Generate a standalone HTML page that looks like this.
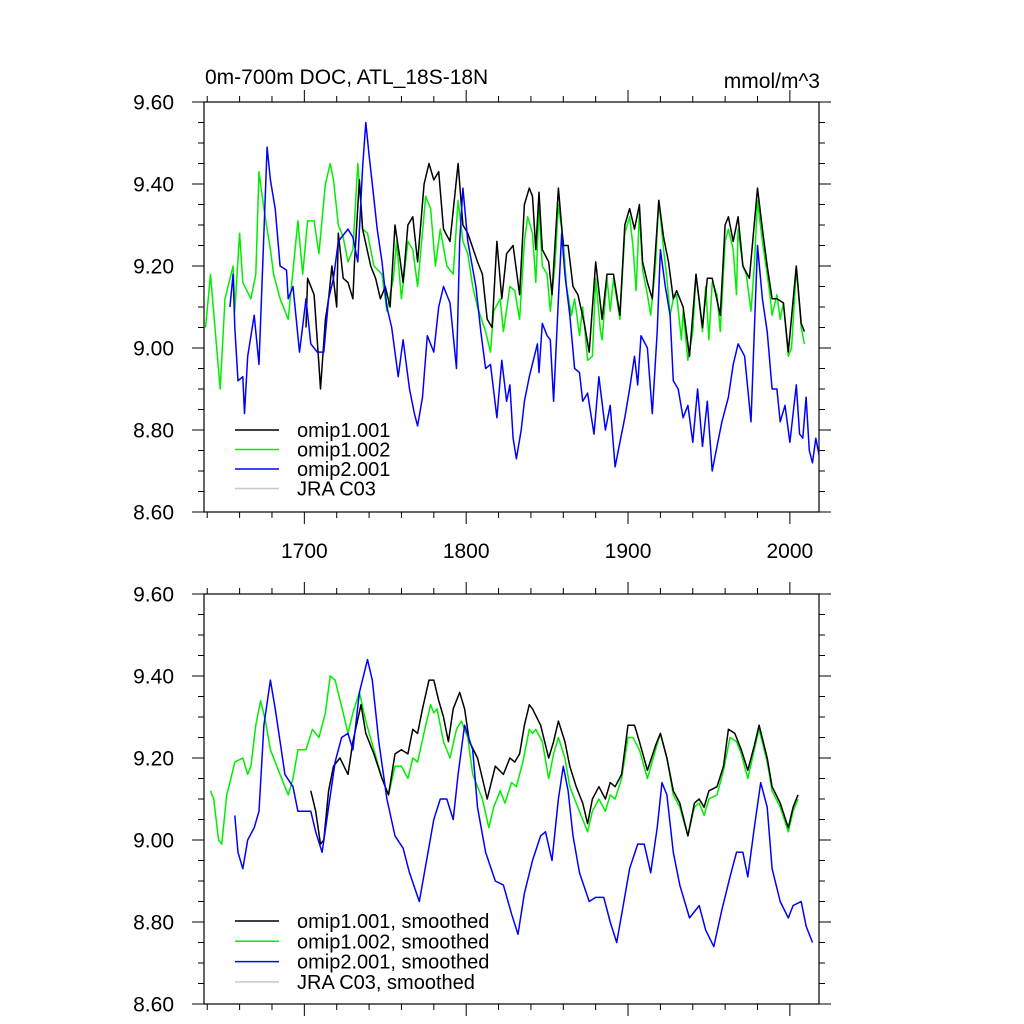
<!DOCTYPE html>
<html><head><meta charset="utf-8"><style>
body{margin:0;background:#fff;}
svg{display:block;font-family:"Liberation Sans",sans-serif;}
</style></head><body>
<svg id="chart" width="1024" height="1024" xmlns="http://www.w3.org/2000/svg"></svg>
<script>
// ---- top panel data ----
const topGreenYears=[1639,1642,1645,1648,1651,1656,1657,1660,1662,1667,1670,1672,1675,1677,1679,1681,1685,1690,1696,1699,1702,1706,1709,1713,1716,1718,1721,1724,1727,1730,1733,1736,1739,1743,1748,1751,1755,1757,1760,1764,1767,1770,1775,1778,1781,1784,1788,1792,1795,1798,1801,1804,1807,1812,1815,1817,1821,1823,1827,1830,1833,1836,1838,1841,1843,1845,1847,1850,1852,1855,1857,1860,1862,1865,1867,1870,1872,1875,1878,1880,1883,1884,1887,1889,1891,1893,1895,1898,1901,1903,1905,1907,1909,1912,1914,1917,1919,1922,1924,1926,1928,1930,1933,1934,1937,1940,1942,1946,1948,1950,1952,1955,1957,1960,1962,1965,1967,1968,1971,1973,1976,1978,1980,1983,1986,1988,1989,1992,1994,1996,1999,2001,2004,2005,2007,2009];
const topGreenValues=[9.05,9.18,9.04,8.90,9.12,9.20,9.09,9.28,9.16,9.12,9.18,9.43,9.34,9.29,9.24,9.18,9.12,9.07,9.31,9.18,9.31,9.31,9.23,9.40,9.45,9.41,9.30,9.27,9.21,9.24,9.45,9.29,9.28,9.20,9.18,9.09,9.17,9.26,9.12,9.26,9.24,9.15,9.37,9.34,9.20,9.29,9.20,9.18,9.36,9.26,9.23,9.15,9.10,9.04,8.99,9.09,9.12,9.04,9.15,9.14,9.07,9.26,9.32,9.28,9.16,9.34,9.20,9.18,9.09,9.21,9.35,9.26,9.15,9.08,9.12,9.03,9.10,8.97,8.98,9.17,9.04,9.02,9.17,9.09,9.17,9.12,9.07,9.28,9.32,9.25,9.14,9.33,9.19,9.13,9.08,9.20,9.36,9.24,9.17,9.08,9.12,9.13,9.02,9.09,8.97,9.04,9.18,9.04,9.15,9.02,9.16,9.13,9.04,9.26,9.29,9.24,9.13,9.29,9.20,9.18,9.09,9.20,9.36,9.26,9.18,9.12,9.08,9.13,9.07,9.11,8.98,9.00,9.19,9.15,9.05,9.01];
const topBlackYears=[1701,1702,1706,1709,1710,1713,1715,1717,1720,1721,1724,1727,1730,1731,1734,1736,1741,1744,1747,1750,1753,1756,1759,1761,1764,1767,1770,1774,1777,1780,1783,1786,1790,1795,1798,1801,1807,1810,1813,1816,1819,1822,1825,1829,1833,1836,1839,1841,1843,1845,1847,1851,1853,1857,1860,1863,1866,1869,1873,1876,1880,1884,1887,1891,1895,1898,1901,1904,1907,1909,1912,1915,1919,1922,1925,1928,1930,1934,1938,1942,1946,1949,1952,1957,1960,1962,1965,1968,1971,1975,1980,1983,1986,1989,1992,1996,1999,2004,2007,2009];
const topBlackValues=[9.05,9.17,9.13,8.96,8.90,9.07,9.12,9.20,9.10,9.28,9.17,9.16,9.12,9.21,9.41,9.29,9.20,9.17,9.12,9.15,9.10,9.30,9.22,9.16,9.30,9.32,9.21,9.40,9.45,9.41,9.43,9.29,9.26,9.45,9.30,9.28,9.21,9.18,9.07,9.05,9.26,9.12,9.23,9.25,9.13,9.35,9.39,9.37,9.24,9.38,9.24,9.21,9.13,9.39,9.25,9.25,9.15,9.13,9.06,8.99,9.21,9.07,9.18,9.18,9.08,9.30,9.34,9.29,9.35,9.21,9.16,9.12,9.36,9.27,9.21,9.12,9.14,9.10,8.98,9.18,9.05,9.17,9.17,9.08,9.30,9.32,9.26,9.32,9.20,9.17,9.39,9.29,9.20,9.12,9.12,9.11,8.99,9.20,9.06,9.04];
const topBlueYears=[1654,1656,1657,1659,1662,1663,1665,1669,1672,1675,1677,1679,1682,1685,1689,1690,1693,1697,1701,1704,1708,1712,1715,1718,1721,1727,1730,1733,1736,1738,1740,1742,1745,1748,1751,1754,1758,1761,1765,1768,1770,1773,1776,1780,1783,1786,1790,1794,1796,1798,1801,1806,1809,1812,1815,1819,1822,1825,1827,1829,1831,1834,1836,1839,1844,1845,1847,1850,1852,1854,1857,1859,1861,1864,1867,1870,1872,1875,1879,1882,1886,1889,1892,1895,1898,1901,1904,1906,1908,1912,1915,1918,1920,1923,1926,1928,1931,1934,1937,1940,1943,1946,1949,1952,1955,1958,1962,1965,1968,1972,1976,1978,1980,1983,1986,1989,1992,1994,1997,2000,2004,2006,2008,2010,2012,2014,2016,2018];
const topBlueValues=[9.10,9.18,9.05,8.92,8.93,8.84,8.98,9.08,8.96,9.28,9.49,9.41,9.34,9.20,9.19,9.12,9.15,8.99,9.12,9.01,8.99,8.99,9.12,9.17,9.26,9.29,9.27,9.21,9.44,9.55,9.47,9.40,9.29,9.21,9.10,9.05,8.93,9.02,8.90,8.84,8.81,8.88,9.03,8.99,9.10,9.15,9.11,8.95,9.26,9.39,9.26,9.15,9.04,8.95,8.96,8.83,8.97,8.87,8.91,8.78,8.73,8.80,8.87,8.93,9.01,8.94,9.06,9.03,9.02,8.87,9.12,9.28,9.18,9.08,8.95,8.94,8.87,8.89,8.79,8.93,8.80,8.86,8.71,8.77,8.83,8.90,8.98,8.91,9.03,9.00,8.84,9.04,9.24,9.15,9.08,8.92,8.90,8.83,8.86,8.77,8.90,8.76,8.87,8.70,8.76,8.82,8.88,8.96,9.01,8.98,8.82,9.04,9.25,9.12,9.04,8.90,8.90,8.82,8.86,8.77,8.91,8.79,8.78,8.88,8.75,8.72,8.78,8.74];
// ---- bottom panel (smoothed) data ----
const botGreenYears=[1642,1644,1647,1649,1652,1654,1657,1662,1665,1667,1670,1673,1676,1679,1683,1686,1690,1693,1696,1701,1705,1709,1713,1716,1719,1724,1727,1730,1734,1738,1743,1748,1752,1756,1760,1764,1767,1770,1775,1778,1780,1782,1786,1790,1794,1797,1801,1804,1810,1814,1817,1821,1824,1828,1831,1835,1839,1841,1843,1847,1851,1854,1857,1861,1864,1868,1872,1875,1878,1882,1886,1889,1892,1896,1900,1903,1907,1912,1917,1920,1924,1928,1932,1937,1941,1944,1947,1950,1955,1959,1963,1967,1970,1974,1978,1981,1986,1989,1994,1999,2002,2005];
const botGreenValues=[9.12,9.10,9.00,8.99,9.11,9.14,9.19,9.20,9.16,9.18,9.28,9.34,9.29,9.22,9.18,9.15,9.11,9.15,9.22,9.22,9.27,9.25,9.31,9.40,9.39,9.31,9.26,9.31,9.36,9.29,9.22,9.15,9.11,9.18,9.18,9.15,9.20,9.19,9.28,9.33,9.31,9.32,9.24,9.20,9.27,9.29,9.25,9.16,9.10,9.03,9.08,9.12,9.09,9.14,9.13,9.19,9.27,9.26,9.27,9.24,9.15,9.21,9.25,9.20,9.13,9.09,9.05,9.02,9.07,9.10,9.07,9.11,9.10,9.15,9.25,9.25,9.22,9.15,9.22,9.26,9.20,9.11,9.08,9.01,9.08,9.09,9.06,9.10,9.11,9.17,9.25,9.24,9.21,9.15,9.22,9.27,9.19,9.12,9.08,9.02,9.07,9.10];
const botBlackYears=[1704,1707,1710,1712,1715,1718,1722,1727,1730,1735,1738,1743,1748,1752,1756,1760,1764,1767,1770,1773,1777,1780,1783,1786,1789,1792,1796,1799,1802,1807,1810,1813,1818,1823,1827,1830,1833,1836,1839,1841,1846,1851,1854,1857,1861,1864,1868,1872,1875,1878,1882,1886,1889,1892,1896,1900,1904,1907,1912,1917,1920,1924,1928,1932,1937,1941,1944,1947,1950,1955,1959,1962,1966,1970,1974,1978,1981,1986,1989,1994,1999,2002,2005];
const botBlackValues=[9.12,9.07,8.99,9.00,9.12,9.18,9.20,9.16,9.24,9.33,9.26,9.21,9.15,9.11,9.21,9.22,9.21,9.27,9.26,9.32,9.39,9.39,9.34,9.30,9.24,9.32,9.36,9.32,9.24,9.20,9.15,9.10,9.18,9.16,9.20,9.19,9.21,9.28,9.33,9.32,9.28,9.20,9.24,9.29,9.24,9.18,9.13,9.09,9.04,9.10,9.13,9.10,9.14,9.13,9.16,9.28,9.28,9.24,9.17,9.23,9.26,9.20,9.12,9.09,9.01,9.09,9.10,9.08,9.12,9.13,9.18,9.27,9.26,9.22,9.17,9.23,9.28,9.20,9.13,9.09,9.03,9.08,9.11];
const botBlueYears=[1657,1659,1662,1665,1669,1672,1675,1679,1682,1685,1688,1693,1696,1702,1704,1707,1711,1715,1719,1723,1727,1730,1734,1739,1742,1746,1751,1756,1761,1765,1771,1776,1780,1784,1788,1792,1795,1799,1804,1807,1812,1818,1823,1828,1832,1836,1841,1846,1849,1853,1857,1860,1863,1866,1870,1876,1880,1885,1889,1893,1897,1901,1906,1910,1914,1918,1921,1924,1928,1932,1938,1944,1948,1953,1958,1963,1967,1971,1974,1978,1982,1986,1989,1994,1999,2002,2007,2010,2014];
const botBlueValues=[9.06,8.97,8.93,9.00,9.03,9.07,9.28,9.39,9.32,9.24,9.16,9.13,9.07,9.07,9.07,9.02,8.97,9.08,9.19,9.25,9.26,9.22,9.36,9.44,9.39,9.24,9.10,9.01,8.98,8.92,8.85,8.96,9.05,9.10,9.10,9.05,9.16,9.28,9.22,9.08,8.97,8.90,8.89,8.82,8.77,8.87,8.95,9.01,9.02,8.95,9.10,9.18,9.12,9.01,8.92,8.85,8.86,8.86,8.80,8.75,8.84,8.93,8.99,8.99,8.92,9.03,9.14,9.11,8.97,8.89,8.81,8.84,8.78,8.74,8.83,8.91,8.97,8.97,8.91,9.03,9.14,9.08,8.93,8.85,8.81,8.84,8.85,8.79,8.75];
const yTickLabels=["9.60","9.40","9.20","9.00","8.80","8.60"];
const yTickValues=[9.6,9.4,9.2,9.0,8.8,8.6];
const xTickValues=[1700,1800,1900,2000];
const xTickLabels=["1700","1800","1900","2000"];

const NS="http://www.w3.org/2000/svg";
const svg=document.getElementById('chart');
const X0=204,X1=819,YR0=1638,YR1=2018;
const FS=21;
function xs(yr){return X0+(yr-YR0)*(X1-X0)/(YR1-YR0);}
function mk(tag,attrs,parent){const e=document.createElementNS(NS,tag);for(const k in attrs)e.setAttribute(k,attrs[k]);(parent||svg).appendChild(e);return e;}

function panel(top,name,showXLabels){
  const bottom=top+410;
  const ys=v=>top+(9.6-v)*410;
  const g=mk('g',{});
  
  
  const frame=mk('rect',{x:X0,y:top,width:X1-X0,height:410,fill:'none',stroke:'#000','stroke-width':1.2},g);
  
  
  for(let v=8.6;v<=9.6001;v+=0.05){
    const major=Math.abs((v*100)%20)<0.5||Math.abs((v*100)%20-20)<0.5;
    const L=major?12:6,y=ys(v);
    mk('line',{x1:X0-L,y1:y,x2:X0,y2:y,stroke:'#000','stroke-width':1},g);
    mk('line',{x1:X1,y1:y,x2:X1+L,y2:y,stroke:'#000','stroke-width':1},g);
  }
  for(let i=0;i<yTickValues.length;i++){
    const t=mk('text',{x:174,y:ys(yTickValues[i])+7.5,'text-anchor':'end','font-size':FS},g);
    t.textContent=yTickLabels[i];
    
    
  }
  for(let yr=1640;yr<=2018;yr+=20){
    const major=yr%100===0,L=major?12:6,x=xs(yr);
    mk('line',{x1:x,y1:top-L,x2:x,y2:top,stroke:'#000','stroke-width':1},g);
    mk('line',{x1:x,y1:bottom,x2:x,y2:bottom+L,stroke:'#000','stroke-width':1},g);
  }
  if(showXLabels){
    for(let i=0;i<xTickValues.length;i++){
      const t=mk('text',{x:xs(xTickValues[i]),y:bottom+46,'text-anchor':'middle','font-size':FS},g);
      t.textContent=xTickLabels[i];
      
      
    }
  }
  return ys;
}
function series(years,vals,ys,color,name){
  let d='';
  for(let i=0;i<years.length;i++)d+=(i?'L':'M')+xs(years[i]).toFixed(1)+','+ys(vals[i]).toFixed(1);
  const p=mk('path',{d:d,fill:'none',stroke:color,'stroke-width':1.5,'stroke-linejoin':'round'});
  
  
}
function legend(x,y0,dy,items){
  items.forEach((it,i)=>{
    const y=y0+i*dy;
    const l=mk('line',{x1:x,y1:y,x2:x+44,y2:y,stroke:it[1],'stroke-width':1.5});
    
    
    const t=mk('text',{x:x+62,y:y+7,'font-size':FS-1});
    t.textContent=it[0];
    
    
  });
}
const ysTop=panel(102,'top-panel',true);
series(topGreenYears,topGreenValues,ysTop,'#00ee00','omip1-002-line');
series(topBlackYears,topBlackValues,ysTop,'#000','omip1-001-line');
series(topBlueYears,topBlueValues,ysTop,'#0000ff','omip2-001-line');
legend(235,430,19.5,[['omip1.001','#000'],['omip1.002','#00ee00'],['omip2.001','#0000ff'],['JRA C03','#c8c8c8']]);
const ysBot=panel(594,'bottom-panel',false);
series(botGreenYears,botGreenValues,ysBot,'#00ee00','omip1-002-smoothed-line');
series(botBlackYears,botBlackValues,ysBot,'#000','omip1-001-smoothed-line');
series(botBlueYears,botBlueValues,ysBot,'#0000ff','omip2-001-smoothed-line');
legend(235,921,20.3,[['omip1.001, smoothed','#000'],['omip1.002, smoothed','#00ee00'],['omip2.001, smoothed','#0000ff'],['JRA C03, smoothed','#c8c8c8']]);
const title=mk('text',{x:205,y:84,'font-size':FS});
title.textContent='0m-700m DOC, ATL_18S-18N';


const unit=mk('text',{x:820,y:88,'font-size':FS,'text-anchor':'end'});
unit.textContent='mmol/m^3';


</script>
</body></html>
